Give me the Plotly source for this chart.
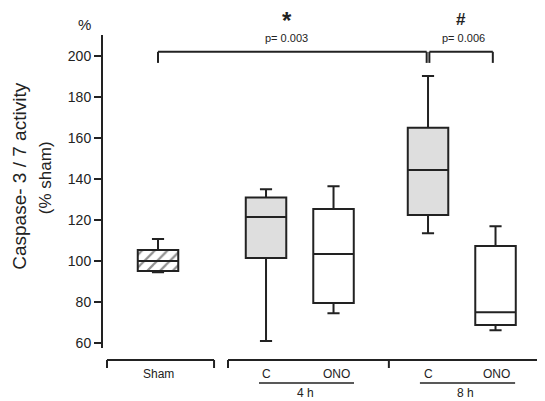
import plotly.graph_objects as go

# ---- data ----
groups = ["Sham", "4h C", "4h ONO", "8h C", "8h ONO"]
positions = [0.0, 1.6, 2.6, 4.0, 5.0]
lower_whisker = [94.5, 61.0, 74.6, 113.6, 66.3]
q1_vals = [95.2, 101.5, 79.5, 122.4, 68.8]
median_vals = [100.0, 121.5, 103.4, 144.4, 75.0]
q3_vals = [105.4, 131.0, 125.4, 165.0, 107.3]
upper_whisker = [110.7, 135.0, 136.5, 190.2, 117.0]
fills = ["white", "#dedede", "white", "#dedede", "white"]
y_ticks = [60, 80, 100, 120, 140, 160, 180, 200]
p_labels = ["p= 0.003", "p= 0.006"]
sig_marks = ["*", "#"]

INK = "#222222"
FONT = "Arial, Liberation Sans, sans-serif"
BOX_W = 0.6

fig = go.Figure()
for i, g in enumerate(groups):
    fig.add_trace(go.Box(
        x=[positions[i]], q1=[q1_vals[i]], median=[median_vals[i]], q3=[q3_vals[i]],
        lowerfence=[lower_whisker[i]], upperfence=[upper_whisker[i]],
        width=BOX_W, whiskerwidth=0.3, fillcolor=fills[i],
        line=dict(color=INK, width=2), name=g, boxpoints=False, hoverinfo="skip",
    ))

# hatch for sham box
hx = positions[0]
fig.add_trace(go.Scatter(
    x=[hx - BOX_W / 2, hx + BOX_W / 2, hx + BOX_W / 2, hx - BOX_W / 2, hx - BOX_W / 2],
    y=[q1_vals[0], q1_vals[0], q3_vals[0], q3_vals[0], q1_vals[0]],
    mode="lines", line=dict(width=0, color=INK), fill="toself",
    fillcolor="rgba(0,0,0,0)",
    fillpattern=dict(shape="/", fgcolor=INK, bgcolor="rgba(0,0,0,0)", size=9, solidity=0.25, fillmode="overlay"),
    hoverinfo="skip", showlegend=False,
))

shapes = []
line_style = dict(color=INK, width=2)
# significance brackets
by, bdrop = 202.0, 196.6
for (a, b) in [(positions[0], positions[3] - 0.02), (positions[3] + 0.02, positions[4] - 0.04)]:
    shapes.append(dict(type="line", xref="x", yref="y", x0=a, x1=b, y0=by, y1=by, line=line_style))
    shapes.append(dict(type="line", xref="x", yref="y", x0=a, x1=a, y0=by, y1=bdrop, line=line_style))
    shapes.append(dict(type="line", xref="x", yref="y", x0=b, x1=b, y0=by, y1=bdrop, line=line_style))

# bottom group brackets
gy, gdrop = -0.0383, -0.0639
for (a, b, mids) in [(-0.756, 0.83, []), (1.037, 5.72, [3.42])]:
    shapes.append(dict(type="line", xref="x", yref="paper", x0=a, x1=b, y0=gy, y1=gy, line=line_style))
    for t in [a, b] + mids:
        shapes.append(dict(type="line", xref="x", yref="paper", x0=t, x1=t, y0=gy, y1=gdrop, line=line_style))
# underlines
uy = -0.112
for (a, b) in [(1.496, 2.904), (3.88, 5.29)]:
    shapes.append(dict(type="line", xref="x", yref="paper", x0=a, x1=b, y0=uy, y1=uy, line=dict(color=INK, width=1.5)))

ann = []
def txt(x, y, s, size, xref="x", yref="paper", angle=0, bold=False):
    ann.append(dict(x=x, y=y, xref=xref, yref=yref, text=f"<b>{s}</b>" if bold else s,
                    showarrow=False, textangle=angle, xanchor="center", yanchor="middle",
                    font=dict(family=FONT, size=size, color=INK)))

txt(0.0, -0.083, "Sham", 12)
txt(1.6, -0.083, "C", 12)
txt(2.65, -0.083, "ONO", 12)
txt(2.19, -0.144, "4 h", 12)
txt(4.0, -0.083, "C", 12)
txt(5.02, -0.083, "ONO", 12)
txt(4.55, -0.144, "8 h", 12)
txt(1.91, 1.045, sig_marks[0], 24, bold=True)
txt(4.49, 1.05, sig_marks[1], 17, bold=True)
txt(1.91, 0.99, p_labels[0], 11)
txt(4.52, 0.99, p_labels[1], 11)
txt(-0.041, 1.032, "%", 15, xref="paper")
txt(-0.188, 0.55, "Caspase- 3 / 7 activity", 19, xref="paper", angle=-90)
txt(-0.131, 0.543, "(% sham)", 17, xref="paper", angle=-90)

fig.update_layout(
    width=537, height=393,
    margin=dict(l=95, r=0, t=27, b=53),
    paper_bgcolor="white", plot_bgcolor="white",
    showlegend=False,
    shapes=shapes, annotations=ann,
    font=dict(family=FONT, color=INK),
    xaxis=dict(range=[-0.815, 5.733], visible=False, fixedrange=True),
    yaxis=dict(range=[57.6, 210.2], tickvals=y_ticks, ticks="outside", ticklen=7, tickwidth=2,
               tickcolor=INK, showline=True, linecolor=INK, linewidth=2, showgrid=False,
               zeroline=False, tickfont=dict(family=FONT, size=14, color=INK)),
)

fig.write_html("out.html")
